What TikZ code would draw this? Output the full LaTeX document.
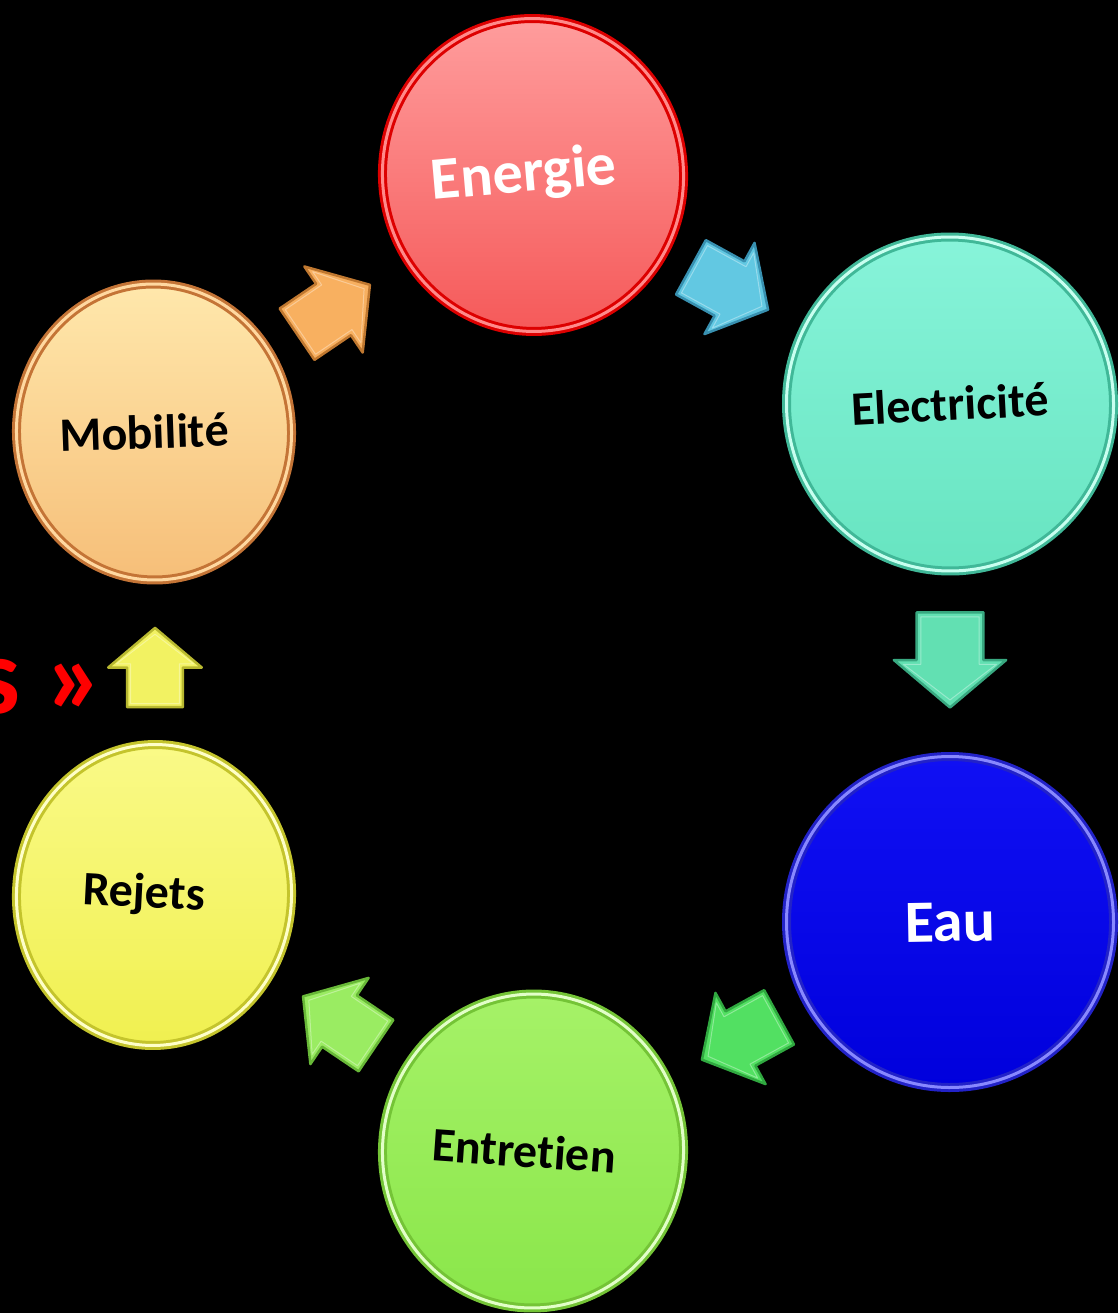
\documentclass[tikz,border=0pt]{standalone}
\usepackage{fontspec}
\setmainfont{Carlito}[Ligatures={NoCommon,NoContextual}]
\usetikzlibrary{shapes.geometric,calc}
\definecolor{eneA}{HTML}{FF9E9E}\definecolor{eneB}{HTML}{F55858}\definecolor{eneR}{HTML}{DD0000}\definecolor{eneD}{HTML}{FF8A8A}
\definecolor{eleA}{HTML}{88F4DA}\definecolor{eleB}{HTML}{66E4C0}\definecolor{eleR}{HTML}{40B898}\definecolor{eleD}{HTML}{C8FFF0}
\definecolor{eauA}{HTML}{1010F4}\definecolor{eauB}{HTML}{0000DC}\definecolor{eauR}{HTML}{2222C8}\definecolor{eauD}{HTML}{8888FF}
\definecolor{entA}{HTML}{A6F268}\definecolor{entB}{HTML}{8AE64A}\definecolor{entR}{HTML}{74C436}\definecolor{entD}{HTML}{E2FFC8}
\definecolor{rejA}{HTML}{FAFA88}\definecolor{rejB}{HTML}{F0F050}\definecolor{rejR}{HTML}{C4C42C}\definecolor{rejD}{HTML}{FFFFC8}
\definecolor{mobA}{HTML}{FFE8AC}\definecolor{mobB}{HTML}{F6BE78}\definecolor{mobR}{HTML}{C47436}\definecolor{mobD}{HTML}{FFD8A0}
\definecolor{arO}{HTML}{F8B060}\definecolor{arOd}{HTML}{C07830}
\definecolor{arB}{HTML}{62C8E2}\definecolor{arBd}{HTML}{3890B0}
\definecolor{arT}{HTML}{62E0B2}\definecolor{arTd}{HTML}{38A880}
\definecolor{arG}{HTML}{52E062}\definecolor{arGd}{HTML}{30A840}
\definecolor{arL}{HTML}{9AEC62}\definecolor{arLd}{HTML}{68B838}
\definecolor{arY}{HTML}{F2F262}\definecolor{arYd}{HTML}{B8B830}
\definecolor{accent}{HTML}{FF0000}
\tikzset{
  disc/.style n args={4}{ellipse, inner sep=0pt, top color=#1, bottom color=#2,
     draw=#3, line width=3pt, double=#4, double distance=3pt},
  lbl/.style={font=\bfseries\fontsize{48}{50}\selectfont, text=black},
  biglbl/.style={font=\bfseries\fontsize{60}{62}\selectfont, text=white},
  pics/barrow/.style n args={2}{code={
    \filldraw[fill=#1, draw=#2, line width=2.5pt, line join=round]
      (-44,-31) -- (0,-31) -- (0,-52) -- (44,0) -- (0,52) -- (0,31) -- (-44,31) -- cycle;
    \draw[draw=white, opacity=0.35, line width=1pt, line join=round]
      (-40,-27) -- (4,-27) -- (4,-43) -- (37,0) -- (4,43) -- (4,27) -- (-40,27) -- cycle;
  }}
}
\begin{document}
\begin{tikzpicture}[x=1pt,y=-1pt]
\fill[black] (0,0) rectangle (1118,1313);
\useasboundingbox (0,0) rectangle (1118,1313);
\begin{scope}
\clip (0,0) rectangle (1118,1313);
% discs with their labels
\node[disc={eneA}{eneB}{eneR}{eneD}, biglbl, minimum width=301pt, minimum height=313pt, rotate=5] (ene) at (533,175) {\hspace*{-18pt}Energie};
\node[disc={eleA}{eleB}{eleR}{eleD}, lbl, minimum width=327pt, minimum height=334pt, rotate=3] (ele) at (950,404) {Electricité};
\node[disc={eauA}{eauB}{eauR}{eauD}, biglbl, minimum width=327pt, minimum height=331pt, rotate=1] (eau) at (950,922) {Eau};
\node[disc={entA}{entB}{entR}{entD}, lbl, minimum width=301pt, minimum height=314pt, rotate=-4] (ent) at (533,1151) {\hspace*{-18pt}Entretien};
\node[disc={rejA}{rejB}{rejR}{rejD}, lbl, minimum width=275pt, minimum height=301pt, rotate=-3] (rej) at (154,895) {\hspace*{-20pt}Rejets};
\node[disc={mobA}{mobB}{mobR}{mobD}, lbl, minimum width=275pt, minimum height=296pt, rotate=2] (mob) at (154,432) {\hspace*{-20pt}Mobilité};
% arrows
\path let \p1=($(ene)-(mob)$), \n1={atan2(\y1,\x1)} in ($(mob)!0.5!(ene)+(-10,6)$) pic[rotate=\n1] {barrow={arO}{arOd}};
\path let \p1=($(ele)-(ene)$), \n1={atan2(\y1,\x1)} in ($(ene)!0.5!(ele)+(-12,-1)$) pic[rotate=\n1] {barrow={arB}{arBd}};
\path let \p1=($(eau)-(ele)$), \n1={atan2(\y1,\x1)} in ($(ele)!0.5!(eau)+(0,-3)$) pic[rotate=\n1, scale=1.08] {barrow={arT}{arTd}};
\path let \p1=($(ent)-(eau)$), \n1={atan2(\y1,\x1)} in ($(eau)!0.5!(ent)+(-1,2)$) pic[rotate=\n1] {barrow={arG}{arGd}};
\path let \p1=($(rej)-(ent)$), \n1={atan2(\y1,\x1)} in ($(ent)!0.5!(rej)+(-4,-2)$) pic[rotate=\n1] {barrow={arL}{arLd}};
\path let \p1=($(mob)-(rej)$), \n1={atan2(\y1,\x1)} in ($(rej)!0.5!(mob)+(1,4)$) pic[rotate=\n1, scale=0.9] {barrow={arY}{arYd}};
% partial red text at the left edge
\node[anchor=base east, inner sep=0pt, text=accent, font=\bfseries\fontsize{110}{112}\selectfont] (side) at (105,713) {s »};
\end{scope}
\end{tikzpicture}
\end{document}
